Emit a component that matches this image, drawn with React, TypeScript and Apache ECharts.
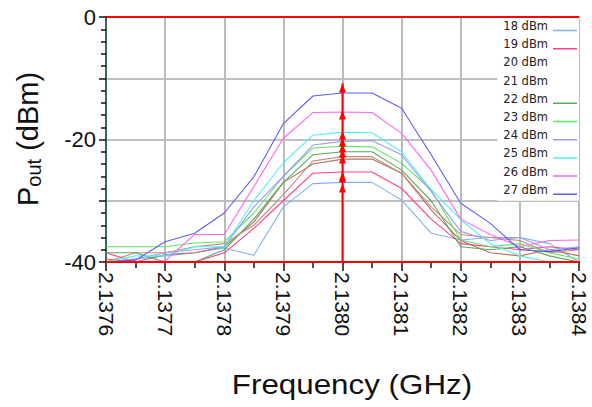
import React, { useEffect, useRef } from "react";
import * as echarts from "echarts";

const freqs = [2.1376, 2.13765, 2.1377, 2.13775, 2.1378, 2.13785, 2.1379, 2.13795, 2.138, 2.13805, 2.1381, 2.13815, 2.1382, 2.13825, 2.1383, 2.13835, 2.1384];

const seriesNames = ["18 dBm", "19 dBm", "20 dBm", "21 dBm", "22 dBm", "23 dBm", "24 dBm", "25 dBm", "26 dBm", "27 dBm"];
const p18 = [-40, -39.5, -39, -38.5, -37.7, -38.9, -31, -27.2, -27, -27, -29.9, -35.3, -36.4, -36, -36, -37, -40];
const p19 = [-38.5, -40, -40, -40, -38.5, -34.5, -30, -25.5, -25.3, -25.3, -28, -33, -37, -37.5, -38, -37.5, -38];
const p20 = [-39.5, -40, -38.8, -38.5, -37.5, -33.5, -27, -24, -23.2, -23.2, -25.5, -31.5, -36.5, -38.5, -39, -38, -39];
const p21 = [-40, -38.5, -38.5, -37.5, -37, -34, -29, -23.5, -22.8, -22.8, -25.5, -31, -35.5, -36, -36.5, -38.5, -38];
const p22 = [-38.5, -38.5, -40, -40, -38, -33, -27, -22.5, -22, -22, -25, -30, -37.5, -38, -37.5, -39, -40];
const p23 = [-37.5, -37.5, -37.5, -36.9, -36.7, -32, -26, -21.4, -21.1, -21.2, -23.9, -28.2, -36.4, -37.5, -37, -38.5, -39.5];
const p24 = [-40, -39.5, -38.5, -38, -37.5, -31, -26, -20.9, -20.3, -20.2, -22.5, -28.5, -35, -36.5, -36, -38, -37.5];
const p25 = [-40, -39, -39, -37.5, -37.5, -30, -23.8, -19.3, -18.8, -18.9, -22, -28.2, -33.1, -37, -39, -40, -40];
const p26 = [-40, -40, -39.8, -35.5, -35.5, -27.7, -19.8, -15.6, -15.5, -15.6, -19, -25, -33, -35.5, -37.5, -36.5, -36.4];
const p27 = [-40, -39.7, -36.7, -35.3, -32, -26.1, -17.4, -12.9, -12.4, -12.4, -14.9, -22.5, -30.4, -33.7, -38, -38.3, -37.7];
const allValues = [p18, p19, p20, p21, p22, p23, p24, p25, p26, p27];
const seriesColors = ["#7db2f5", "#ff3d8b", "#b8705e", "#c98a7a", "#5ea65e", "#5ee65e", "#9c9cf0", "#55eeee", "#ff66ee", "#5f5fee"];
const hiddenLegendIcon = ["20 dBm", "21 dBm"];

const markerFreq = 2.138;
const markerLevels = [-27.9, -26.3, -26, -23.2, -22.2, -21.4, -20.4, -19.3, -16, -11.6];
const markerTop = -10.8;

const yTickLabels = [0, -20, -40];

const legendLineIcon = "path://M0,0L0.01,0L0.01,0.01Z M0,9L24,9L24,10.5L0,10.5Z";

export default function App() {
  const ref = useRef<HTMLDivElement>(null);
  useEffect(() => {
    document.body.style.margin = "0";
    const chart = echarts.init(ref.current!, null, { renderer: "svg" });
    const lineSeries = seriesNames.map((name, i) => ({
      name,
      type: "line",
      data: freqs.map((f, j) => [f, allValues[i][j]]),
      showSymbol: false,
      symbol: "none",
      lineStyle: { color: seriesColors[i], width: 1.1 },
      itemStyle: { color: seriesColors[i] },
      z: 2,
    }));
    const markerData: any[] = [{ value: [markerFreq, -40], symbol: "none" }];
    markerLevels.forEach((v) => markerData.push({ value: [markerFreq, v], symbol: "triangle", symbolSize: [7, 9] }));
    markerData.push({ value: [markerFreq, markerTop], symbol: "none" });
    const option: any = {
      animation: false,
      backgroundColor: "#ffffff",
      grid: { left: 106, right: 13, top: 17, bottom: 145, show: true, borderColor: "#33cccc", borderWidth: 1.5 },
      legend: {
        orient: "vertical",
        right: 13,
        top: 17,
        align: "right",
        backgroundColor: "#ffffff",
        padding: [2, 2, 4, 6],
        itemGap: 4.2,
        itemWidth: 24,
        itemHeight: 10.5,
        textStyle: { fontFamily: "DejaVu Sans", fontSize: 11.5, color: "#222", lineHeight: 14 },
        data: seriesNames.map((n) =>
          hiddenLegendIcon.includes(n) ? { name: n, icon: "none" } : { name: n, icon: legendLineIcon }
        ),
      },
      xAxis: {
        type: "value",
        min: 2.1376,
        max: 2.1384,
        interval: 0.0001,
        axisLine: { show: true, onZero: false, lineStyle: { color: "#111", width: 1.5 } },
        axisTick: { show: true, length: 9, lineStyle: { color: "#111", width: 1.5 } },
        minorTick: { show: true, splitNumber: 2, length: 6, lineStyle: { color: "#111", width: 1.5 } },
        splitLine: { show: true, lineStyle: { color: "#bbbbbb", width: 2 } },
        axisLabel: {
          rotate: -90,
          margin: 10,
          fontFamily: "Liberation Sans",
          fontSize: 21,
          color: "#111",
          formatter: (v: number) => v.toFixed(4),
        },
      },
      yAxis: {
        type: "value",
        min: -40,
        max: 0,
        interval: 10,
        axisLine: { show: true, onZero: false, lineStyle: { color: "#114444", width: 1.5 } },
        axisTick: { show: true, length: 7, lineStyle: { color: "#111", width: 1.5 } },
        minorTick: { show: true, splitNumber: 5, length: 5, lineStyle: { color: "#111", width: 1.5 } },
        splitLine: { show: true, lineStyle: { color: "#aaaaaa", width: 1.5 } },
        axisLabel: {
          margin: 10,
          fontFamily: "Liberation Sans",
          fontSize: 22,
          color: "#111",
          formatter: (v: number) => (yTickLabels.includes(v) ? String(v) : ""),
        },
      },
      series: [
        ...lineSeries,
        {
          name: "marker",
          type: "line",
          data: markerData,
          showSymbol: true,
          lineStyle: { color: "#ff0000", width: 2 },
          itemStyle: { color: "#ff0000" },
          z: 5,
          markLine: {
            silent: true,
            symbol: "none",
            label: { show: false },
            lineStyle: { color: "#ff0000", width: 2, type: "solid" },
            data: [{ yAxis: 0 }, { yAxis: -40 }],
          },
        },
      ],
      graphic: [
        {
          type: "text",
          x: 28,
          y: 139,
          rotation: Math.PI / 2,
          style: {
            text: "{a|P}{b|out}{a| (dBm)}",
            align: "center",
            verticalAlign: "middle",
            fill: "#111",
            rich: {
              a: { fontFamily: "Liberation Sans", fontSize: 29, fill: "#111" },
              b: { fontFamily: "Liberation Sans", fontSize: 20, fill: "#111", padding: [12, 0, 0, 0] },
            },
          },
        },
        {
          type: "text",
          x: 352,
          y: 384,
          scaleX: 1.12,
          style: {
            text: "Frequency (GHz)",
            align: "center",
            verticalAlign: "middle",
            fontFamily: "Liberation Sans",
            fontSize: 28,
            fill: "#111",
          },
        },
      ],
    };
    chart.setOption(option);
    return () => chart.dispose();
  }, []);
  return <div ref={ref} style={{ position: "absolute", left: 0, top: 0, width: 592, height: 407 }} />;
}
